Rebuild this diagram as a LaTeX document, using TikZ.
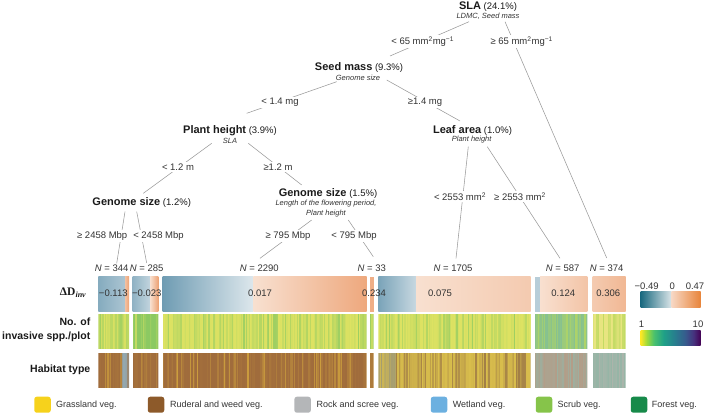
\documentclass[tikz,border=0pt]{standalone}
\usepackage{fontspec}
\setmainfont{Liberation Sans}
\newfontfamily\timesface{Liberation Serif}

\definecolor{ink}{HTML}{333333}
\definecolor{inkdark}{HTML}{1A1A1A}
\definecolor{linegray}{HTML}{9A9A9A}
% Delta D bars
\definecolor{blD}{HTML}{6F9CB3}
\definecolor{blL}{HTML}{DDE7EC}
\definecolor{orL}{HTML}{F8E0D0}
\definecolor{orD}{HTML}{EDA274}
\definecolor{cbBlue}{HTML}{1A6A80}
\definecolor{cbPale}{HTML}{DCE6E9}
\definecolor{cbPeach}{HTML}{F7D7C3}
\definecolor{cbOrange}{HTML}{E8843A}
% invasive spp. row
\definecolor{sppY}{HTML}{DDE262}
\definecolor{sppL}{HTML}{B9D85C}
\definecolor{sppG}{HTML}{8CC962}
\definecolor{sppT}{HTML}{86C190}
\definecolor{sppP}{HTML}{E8E580}
% habitat row
\definecolor{habB}{HTML}{A06C3C}
\definecolor{habO}{HTML}{D4A73E}
\definecolor{habG}{HTML}{93A8AF}
\definecolor{habOl}{HTML}{A39C72}
\definecolor{habT}{HTML}{B39D88}
\definecolor{habS}{HTML}{96B5A6}
\definecolor{habP}{HTML}{B0B4AC}
\definecolor{habY}{HTML}{D8BD4C}
\definecolor{habK}{HTML}{977245}
% legend
\definecolor{keyGrass}{HTML}{F6D21C}
\definecolor{keyRud}{HTML}{8D5A2A}
\definecolor{keyRock}{HTML}{B4B6B8}
\definecolor{keyWet}{HTML}{6CB0E0}
\definecolor{keyScrub}{HTML}{86C44A}
\definecolor{keyForest}{HTML}{178A4A}
% viridis
\definecolor{vir0}{HTML}{FDE725}
\definecolor{vir1}{HTML}{A0DA39}
\definecolor{vir2}{HTML}{4AC16D}
\definecolor{vir3}{HTML}{1FA187}
\definecolor{vir4}{HTML}{277F8E}
\definecolor{vir5}{HTML}{365C8D}
\definecolor{vir6}{HTML}{46327E}
\definecolor{vir7}{HTML}{440154}
\pgfdeclarehorizontalshading{viridis}{100bp}{color(0bp)=(vir0); color(25bp)=(vir0);
  color(30bp)=(vir1); color(36bp)=(vir2); color(44bp)=(vir3); color(53bp)=(vir4);
  color(62bp)=(vir5); color(69bp)=(vir6); color(75bp)=(vir7); color(100bp)=(vir7)}

\newcommand{\trait}[1]{{\fontsize{11}{12}\selectfont\bfseries #1}}

\begin{document}
\begin{tikzpicture}[
   x=1pt,y=-1pt,
   every node/.style={font=\fontsize{9.5}{11}\selectfont,text=ink,inner sep=0pt},
   split/.style={text=inkdark},
   hint/.style={font=\fontsize{7.5}{10}\selectfont\itshape,align=center},
   cond/.style={fill=white,inner sep=1.5pt},
   twig/.style={draw=linegray,line width=0.55pt},
   rowname/.style={font=\fontsize{10.5}{13.6}\selectfont\bfseries,text=inkdark,anchor=east,align=right},
   swatch/.style={rounded corners=2.5pt,minimum width=16.5pt,minimum height=16pt},
   keytext/.style={anchor=west,font=\fontsize{9}{10}\selectfont}
 ]
  \useasboundingbox (0,0) rectangle (709,413);

  % tree
  \node[split] (sla) at (488,6.5) {\trait{SLA} (24.1\%)};
  \node[hint] (slanote) at (488,16.3) {LDMC, Seed mass};
  \node[split] (seed) at (359,67.5) {\trait{Seed mass} (9.3\%)};
  \node[hint] (seednote) at (358,78.3) {Genome size};
  \node[split] (height) at (230,131) {\trait{Plant height} (3.9\%)};
  \node[hint] (heightnote) at (230,141) {SLA};
  \node[split] (leaf) at (472.5,130) {\trait{Leaf area} (1.0\%)};
  \node[hint] (leafnote) at (471.7,140) {Plant height};
  \node[split] (gsa) at (141.7,202.7) {\trait{Genome size} (1.2\%)};
  \node[split] (gsb) at (328,193.3) {\trait{Genome size} (1.5\%)};
  \node[hint] (gsbnote) at (326,208.3) {Length of the flowering period,\\Plant height};

  \node (n344) at (111.7,268.3) {\textit{N} = 344};
  \node (n285) at (146.7,268.3) {\textit{N} = 285};
  \node (n2290) at (259.3,268.3) {\textit{N} = 2290};
  \node (n33) at (371.7,268.3) {\textit{N} = 33};
  \node (n1705) at (453,268.3) {\textit{N} = 1705};
  \node (n587) at (562.7,268.3) {\textit{N} = 587};
  \node (n374) at (606.7,268.3) {\textit{N} = 374};

  \draw[twig] ([shift={(-19,15.2)}]sla.center) -- ([shift={(31,-11.5)}]seed.center);
  \draw[twig] ([shift={(17,15.2)}]sla.center) -- ([shift={(0,-10.3)}]n374.center);
  \draw[twig] ([shift={(-22.3,14.2)}]seed.center) -- ([shift={(16.7,-17.7)}]height.center);
  \draw[twig] ([shift={(27.7,12.5)}]seed.center) -- ([shift={(-12.5,-9)}]leaf.center);
  \draw[twig] ([shift={(-18.3,12.3)}]height.center) -- ([shift={(1.6,-9.4)}]gsa.center);
  \draw[twig] ([shift={(18.3,12.3)}]height.center) -- ([shift={(-26.3,-8.3)}]gsb.center);
  \draw[twig] ([shift={(-16.7,9)}]gsa.center) -- ([shift={(5,-5)}]n344.center);
  \draw[twig] ([shift={(-5,9)}]gsa.center) -- ([shift={(0,-5.3)}]n285.center);
  \draw[twig] ([shift={(-16.3,26.7)}]gsb.center) -- ([shift={(0.7,-10)}]n2290.center);
  \draw[twig] ([shift={(20.3,26.7)}]gsb.center) -- ([shift={(1.6,-11.6)}]n33.center);
  \draw[twig] ([shift={(-4.2,16.7)}]leaf.center) -- ([shift={(3,-10)}]n1705.center);
  \draw[twig] ([shift={(14.8,16.7)}]leaf.center) -- ([shift={(-2.7,-10)}]n587.center);

  \node[cond] (c65lo) at (422.7,41.7) {< 65 mm\textsuperscript{2}mg\textsuperscript{−1}};
  \node[cond] (c65hi) at (521.7,41.7) {≥ 65 mm\textsuperscript{2}mg\textsuperscript{−1}};
  \node[cond] (c14lo) at (280,102.7) {< 1.4 mg};
  \node[cond] (c14hi) at (425,102.7) {≥1.4 mg};
  \node[cond] (c12lo) at (178,167.3) {< 1.2 m};
  \node[cond] (c12hi) at (278,167.3) {≥1.2 m};
  \node[cond] (c2458hi) at (102.2,236) {≥ 2458 Mbp};
  \node[cond] (c2458lo) at (158.5,236) {< 2458 Mbp};
  \node[cond] (c795hi) at (288,236) {≥ 795 Mbp};
  \node[cond] (c795lo) at (354,236) {< 795 Mbp};
  \node[cond] (c2553lo) at (460,196.7) {< 2553 mm\textsuperscript{2}};
  \node[cond] (c2553hi) at (520,196.7) {≥ 2553 mm\textsuperscript{2}};

  % Delta D row
  \shade[left color=blD!80!blL,right color=blD!45!blL] (98.3,276.5) rectangle (125,311.5);
  \shade[left color=orL!50!orD,right color=orD] (125,276.5) rectangle (129,311.5);
  \shade[left color=blD!70!blL,right color=blD!25!blL] (132.7,276.5) rectangle (150,311.5);
  \shade[left color=orL,right color=orD] (150,276.5) rectangle (158.3,311.5);
  \shade[left color=blD,right color=blL] (162.7,276.5) rectangle (253.3,311.5);
  \shade[left color=orL,right color=orD!90!orL] (253.3,276.5) rectangle (366.7,311.5);
  \fill[orD!80!orL] (370,276.5) rectangle (373.7,311.5);
  \shade[left color=blD!90!blL,right color=blD!20!blL] (378.3,276.5) rectangle (416,311.5);
  \shade[left color=orL,right color=orL!65!orD] (416,276.5) rectangle (530.7,311.5);
  \fill[blD!35!blL] (535,276.5) rectangle (540,311.5);
  \shade[left color=orL,right color=orL!55!orD] (540,276.5) rectangle (587.3,311.5);
  \shade[left color=orL!65!orD,right color=orL!35!orD] (592.5,276.5) rectangle (625.5,311.5);

  \node (v344) at (113.3,293.5) {−0.113};
  \node (v285) at (146.7,293.5) {−0.023};
  \node (v2290) at (260,293.5) {0.017};
  \node (v33) at (374,293.5) {0.234};
  \node (v1705) at (440,293.5) {0.075};
  \node (v587) at (563.3,293.5) {0.124};
  \node (v374) at (608.3,293.5) {0.306};

  % invasive spp. row
  \pgfmathsetseed{11}
  \foreach \xa/\xb/\ca/\cb/\e in {98.3/129/sppG/sppY/1.5, 132.7/158.3/sppY/sppG/2.5,
      162.7/366.7/sppG/sppY/2, 370/373.7/sppG/sppY/1, 378.3/530.7/sppG/sppY/2.5,
      535/587.3/sppL/sppT/1.5, 592.5/625.5/sppL/sppP/2}{
    \begin{scope}
      \clip (\xa,313.8) rectangle (\xb,349);
      \pgfmathtruncatemacro\n{(\xb-\xa)/1.3}
      \foreach \k in {0,...,\n}{
        \pgfmathtruncatemacro\p{80*rnd^\e}
        \fill[\ca!\p!\cb] (\xa+\k*1.3,313.8) rectangle ++(1.5,35.2);
      }
    \end{scope}
  }

  % habitat row
  \foreach \xa/\xb/\ca/\cb/\e in {98.3/122/habO/habB/4, 122/129/habB/habG/1.5,
      132.7/158.3/habO/habB/4, 162.7/366.7/habO/habB/3.5, 370/373.7/habO/habB/4,
      378.3/396/habY/habOl/1.5, 396/530.7/habK/habY/2,
      535/587.3/habS/habT/1.5, 592.5/625.5/habP/habS/1.5}{
    \begin{scope}
      \clip (\xa,352.8) rectangle (\xb,388);
      \pgfmathtruncatemacro\n{(\xb-\xa)/1.3}
      \foreach \k in {0,...,\n}{
        \pgfmathtruncatemacro\p{85*rnd^\e}
        \fill[\ca!\p!\cb] (\xa+\k*1.3,352.8) rectangle ++(1.5,35.2);
      }
    \end{scope}
  }

  % row labels
  \node[rowname] (lbldelta) at (86.5,293) {\timesface\fontsize{11.5}{12}\selectfont ΔD\textsubscript{\itshape inv}};
  \node[rowname] (lblspp) at (90.5,329.5) {No. of\\invasive spp./plot};
  \node[rowname] (lblhab) at (90.5,370) {Habitat type};

  % colour bars
  \shade[left color=cbBlue,right color=cbPale] (640.7,291.7) rectangle (671.7,307.3);
  \shade[left color=cbPeach,right color=cbOrange] (671.7,291.7) rectangle (700.7,307.3);
  \node (tmin) at (646.7,286) {−0.49};
  \node (tzero) at (672.3,286) {0};
  \node (tmax) at (695,286) {0.47};
  \shade[shading=viridis] (640.7,330) rectangle (700.7,345.7);
  \node (tone) at (641.5,324) {1};
  \node (tten) at (698,324) {10};

  % legend
  \node[swatch,fill=keyGrass] (kgrass) at (42.5,404.7) {};
  \node[keytext] (tgrass) at (56,405) {Grassland veg.};
  \node[swatch,fill=keyRud] (krud) at (156,404.7) {};
  \node[keytext] (trud) at (170,405) {Ruderal and weed veg.};
  \node[swatch,fill=keyRock] (krock) at (302.6,404.7) {};
  \node[keytext] (trock) at (316.5,405) {Rock and scree veg.};
  \node[swatch,fill=keyWet] (kwet) at (439,404.7) {};
  \node[keytext] (twet) at (452.7,405) {Wetland veg.};
  \node[swatch,fill=keyScrub] (kscrub) at (544,404.7) {};
  \node[keytext] (tscrub) at (557.3,405) {Scrub veg.};
  \node[swatch,fill=keyForest] (kforest) at (639,404.7) {};
  \node[keytext] (tforest) at (651.7,405) {Forest veg.};
 \end{tikzpicture}
\end{document}
